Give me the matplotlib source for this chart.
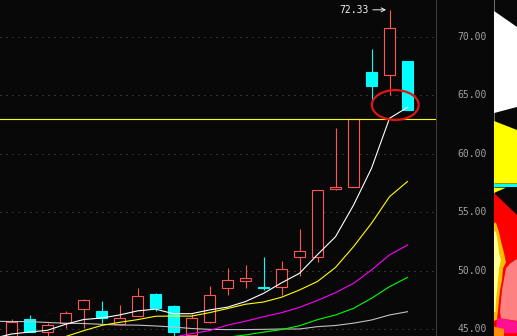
import numpy as np
import matplotlib
matplotlib.use('Agg')
import matplotlib.pyplot as plt
import matplotlib.transforms as mtransforms
from matplotlib.patches import Ellipse

# daily candles
opens  = [44.30, 45.86, 44.77, 45.54, 46.68, 46.54, 45.39, 46.14, 48.02, 46.97, 44.50, 45.62,
          48.48, 49.14, 48.58, 48.56, 51.14, 51.13, 56.95, 57.20, 67.03, 66.73, 67.92]
highs  = [45.85, 46.20, 45.53, 46.54, 47.60, 47.40, 47.05, 48.54, 48.10, 47.05, 46.26, 48.68,
          50.22, 50.48, 51.19, 50.82, 53.56, 56.90, 62.24, 62.95, 68.97, 72.33, 67.95]
lows   = [44.00, 44.75, 44.20, 45.10, 45.05, 45.54, 45.30, 46.14, 46.50, 44.30, 44.20, 45.54,
          47.93, 48.54, 48.33, 47.93, 49.56, 50.77, 56.86, 57.20, 64.04, 65.03, 63.72]
closes = [45.60, 44.77, 45.34, 46.34, 47.48, 45.97, 45.92, 47.80, 46.77, 44.77, 45.92, 47.90,
          49.17, 49.37, 48.55, 50.11, 51.64, 56.90, 57.20, 62.95, 65.84, 70.73, 63.72]

# moving averages, first value belongs to the day before the first visible candle
nan = np.nan
ma5  = [44.20, 44.57, 44.74, 44.89, 45.40, 45.81, 45.94, 46.20, 46.55, 46.70, 46.31, 46.31, 46.63,
        46.87, 47.35, 48.05, 48.95, 49.77, 51.37, 52.90, 55.60, 58.76, 63.04, 63.98]
ma10 = [nan, nan, nan, nan, 44.35, 44.85, 45.30, 45.57, 45.80, 46.09, 46.11, 46.10, 46.40,
        46.75, 47.12, 47.31, 47.72, 48.34, 49.07, 50.27, 52.05, 54.05, 56.33, 57.63]
ma20 = [nan, nan, nan, nan, nan, nan, nan, nan, nan, nan, 44.30, 44.60, 44.86,
        45.33, 45.67, 46.05, 46.40, 46.85, 47.45, 48.11, 48.91, 50.05, 51.34, 52.19]
ma30 = [nan, nan, nan, nan, nan, nan, nan, nan, nan, nan, nan, nan, nan,
        44.30, 44.49, 44.73, 44.95, 45.28, 45.80, 46.20, 46.77, 47.63, 48.62, 49.42]
ma60 = [45.66, 45.64, 45.63, 45.56, 45.49, 45.47, 45.40, 45.34, 45.33, 45.26, 45.17, 45.04, 44.97,
        44.95, 44.95, 44.97, 45.00, 45.00, 45.20, 45.30, 45.50, 45.77, 46.20, 46.48]

price_ticks = [45, 50, 55, 60, 65, 70]
tick_labels = ['45.00', '50.00', '55.00', '60.00', '65.00', '70.00']
high_label = '72.33'
line_price = 62.95

# chip distribution strip: (width px, price) outlines per colour
chip_white  = [(0, 72.23), (23, 70.86), (23, 64.01), (0, 63.49)]
chip_yellow = [(0, 62.81), (23, 62.04), (23, 57.45), (0, 57.45)]
chip_cyan   = [(0, 57.42), (23, 57.42), (23, 57.18), (0, 57.18)]
chip_yellow2 = [(0, 57.10), (12, 57.10), (0, 56.65)]
chip_red    = [(0, 56.64), (23, 54.76), (23, 44.4), (0, 44.4)]
chip_orange = [(0, 54.1), (2, 54.1), (5, 53.3), (7, 52.5), (10, 51.5), (12, 50.7), (9, 50.2),
               (8, 49.2), (6, 48.3), (5, 47.5), (4, 46.6), (3, 45.8), (0, 45.7)]
chip_pale   = [(0, 53.4), (2, 53.3), (4, 52.3), (5, 51.5), (7, 50.9), (5, 50.2), (4, 49.2),
               (3, 48.3), (2, 47.5), (1.5, 46.5), (0, 46.4)]
chip_salmon = [(23, 51.0), (16, 50.6), (12, 50.2), (10, 49.3), (8, 48.3), (7, 47.4), (6, 46.5),
               (7, 45.9), (23, 45.7)]
chip_pink   = [(3, 45.95), (23, 45.65), (23, 44.65), (2, 44.65)]
chip_amber  = [(0, 45.2), (10, 45.0), (10, 44.4), (0, 44.4)]

bg = '#080808'
red = '#ff5555'
cyan = '#00ffff'

W, H = 517, 336
fig = plt.figure(figsize=(W / 100, H / 100), dpi=100, facecolor=bg)

ymin, ymax = 44.40, 73.17

# main price panel
ax = fig.add_axes([0, 0, 436 / W, 1])
ax.set_facecolor(bg)
ax.set_xlim(-0.639, 23.583)
ax.set_ylim(ymin, ymax)
ax.set_axis_off()

for p in price_ticks:
    ax.axhline(p, color='#5c5c5c', lw=0.72, ls=(0, (1, 5)), zorder=1)

x = np.arange(len(opens))
o = np.array(opens); c = np.array(closes)
up = c >= o
ax.vlines(x, lows, highs, colors=[red if u else cyan for u in up], lw=0.8, zorder=2)
ax.bar(x[up], np.abs(c - o)[up], bottom=np.minimum(o, c)[up], width=0.58,
       facecolor=bg, edgecolor=red, lw=0.8, zorder=3)
ax.bar(x[~up], np.maximum(np.abs(c - o)[~up], 0.03), bottom=np.minimum(o, c)[~up], width=0.58,
       facecolor=cyan, edgecolor=cyan, lw=0.8, zorder=3)

xm = np.arange(-1, len(opens))
for vals, col in [(ma60, '#c0c0c0'), (ma30, '#00ff00'), (ma20, '#ff00ff'),
                  (ma10, '#ffff00'), (ma5, '#ffffff')]:
    ax.plot(xm, vals, color=col, lw=0.8, zorder=4)

ax.axhline(line_price, color='#ffff00', lw=0.8, zorder=5)

ax.add_patch(Ellipse((21.32, 64.18), 2.6, 2.55, fill=False, edgecolor='#e01515', lw=1.6, zorder=6))

ax.annotate(high_label, xy=(21 - 0.19, highs[21]), xytext=(-12.5, 0), textcoords='offset points',
            ha='right', va='center', color='#f0f0f0', fontsize=7, family='DejaVu Sans Mono',
            arrowprops=dict(arrowstyle='->', color='#f0f0f0', lw=0.7, shrinkA=1, shrinkB=0),
            zorder=7)

# price label panel
axl = fig.add_axes([436 / W, 0, 58 / W, 1])
axl.set_facecolor(bg)
axl.set_ylim(ymin, ymax)
axl.set_xticks([]); axl.set_yticks([])
axl.spines['top'].set_visible(False)
axl.spines['bottom'].set_visible(False)
axl.spines['left'].set_color('#3c3c3c')
axl.spines['right'].set_color('#6a6a6a')
axl.spines['left'].set_linewidth(0.8)
axl.spines['right'].set_linewidth(0.8)
tr = mtransforms.blended_transform_factory(axl.transAxes, axl.transData)
for p, lab in zip(price_ticks, tick_labels):
    axl.text(0.88, p, lab, transform=tr, ha='right', va='center', color='#a0a0a0',
             fontsize=7, family='DejaVu Sans Mono')

# chip strip
axs = fig.add_axes([494 / W, 0, 23 / W, 1])
axs.set_facecolor(bg)
axs.set_xlim(0, 23)
axs.set_ylim(ymin, ymax)
axs.set_axis_off()
for poly, col in [(chip_white, '#ffffff'), (chip_yellow, '#ffff00'), (chip_cyan, '#00ffff'),
                  (chip_yellow2, '#ffff00'), (chip_red, '#ff0000'), (chip_orange, '#f8c000'),
                  (chip_pale, '#ffff99'), (chip_salmon, '#ff8080'), (chip_pink, '#ff1090'),
                  (chip_amber, '#ff8c00')]:
    xs, ys = zip(*poly)
    axs.fill(xs, ys, color=col, lw=0)

fig.savefig('out.png', dpi=100, facecolor=bg)
